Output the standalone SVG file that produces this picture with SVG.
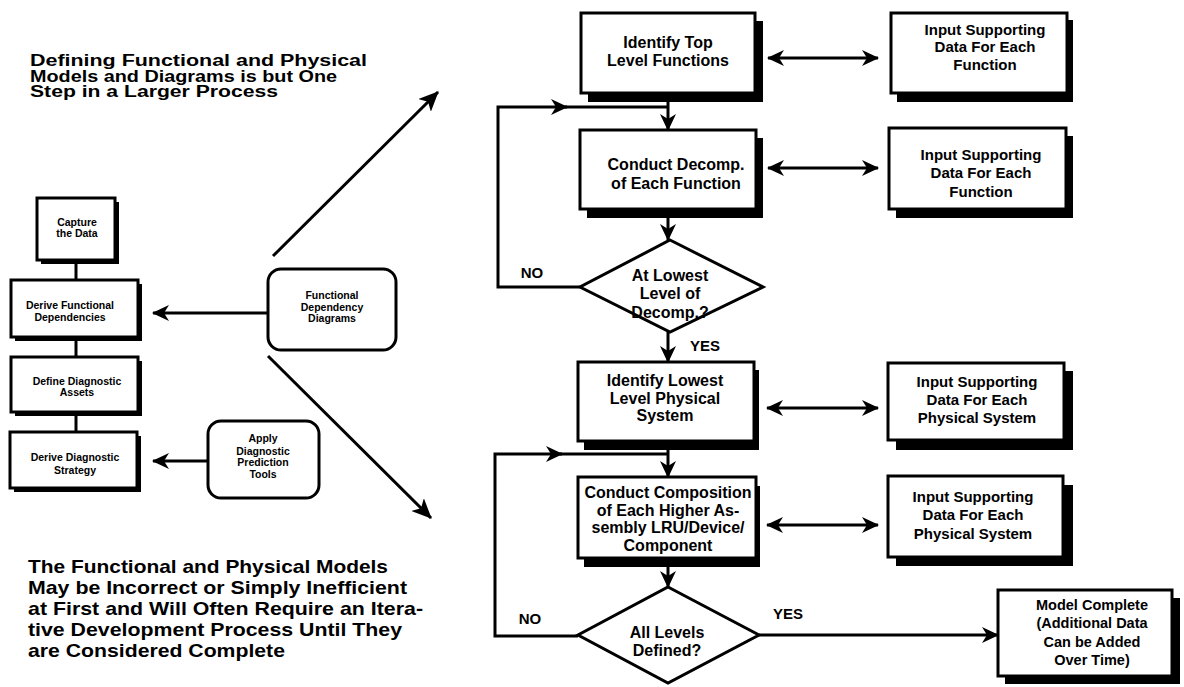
<svg xmlns="http://www.w3.org/2000/svg" width="1184" height="687" viewBox="0 0 1184 687">
<style>
  .box{fill:#fff;stroke:#000;stroke-width:3}
  .sh{fill:#000}
  .ln{fill:none;stroke:#000;stroke-width:3}
  .t{font-family:"Liberation Sans",Arial,sans-serif;font-weight:bold;fill:#000;text-anchor:middle}
  .f16{font-size:16px}
  .f15{font-size:15px}
  .f145{font-size:14.5px}
  .f10{font-size:10.5px}
  .big{font-family:"Liberation Sans",Arial,sans-serif;font-weight:bold;fill:#000}
</style>
<defs>
  <marker id="ah" viewBox="0 0 17 16" refX="16" refY="8" markerWidth="17" markerHeight="16" orient="auto-start-reverse" markerUnits="userSpaceOnUse">
    <path d="M0,0 L17,8 L0,16 L5,8 z" fill="#000"/>
  </marker>
  <marker id="ahL" viewBox="0 0 20 18" refX="19" refY="9" markerWidth="20" markerHeight="18" orient="auto" markerUnits="userSpaceOnUse">
    <path d="M0,0 L20,9 L0,18 L5,9 z" fill="#000"/>
  </marker>
</defs>
<rect width="1184" height="687" fill="#fff"/>

<g id="title-top">
  <text class="big" font-size="16" x="30" y="66" textLength="337" lengthAdjust="spacingAndGlyphs">Defining Functional and Physical</text>
  <text class="big" font-size="16" x="30" y="81.5" textLength="307" lengthAdjust="spacingAndGlyphs">Models and Diagrams is but One</text>
  <text class="big" font-size="16" x="30" y="97" textLength="248" lengthAdjust="spacingAndGlyphs">Step in a Larger Process</text>
</g>
<g id="title-bottom">
  <text class="big" font-size="18.5" x="28" y="573" textLength="360" lengthAdjust="spacingAndGlyphs">The Functional and Physical Models</text>
  <text class="big" font-size="18.5" x="28" y="594" textLength="379" lengthAdjust="spacingAndGlyphs">May be Incorrect or Simply Inefficient</text>
  <text class="big" font-size="18.5" x="28" y="615" textLength="395" lengthAdjust="spacingAndGlyphs">at First and Will Often Require an Itera-</text>
  <text class="big" font-size="18.5" x="28" y="636" textLength="374" lengthAdjust="spacingAndGlyphs">tive Development Process Until They</text>
  <text class="big" font-size="18.5" x="28" y="657" textLength="257" lengthAdjust="spacingAndGlyphs">are Considered Complete</text>
</g>

<g id="connectors">
  <line class="ln" x1="76" y1="260" x2="76" y2="280"/>
  <line class="ln" x1="76" y1="337" x2="76" y2="357"/>
  <line class="ln" x1="76" y1="412" x2="76" y2="432"/>
  <line class="ln" x1="268" y1="313" x2="153" y2="313" marker-end="url(#ah)"/>
  <line class="ln" x1="208" y1="461" x2="153" y2="461" marker-end="url(#ah)"/>
  <line class="ln" x1="273" y1="256" x2="438" y2="92" marker-end="url(#ahL)"/>
  <line class="ln" x1="268" y1="356" x2="431" y2="518" marker-end="url(#ahL)"/>
  <line class="ln" x1="668" y1="93" x2="668" y2="130" marker-end="url(#ah)"/>
  <path class="ln" d="M580,287 H498 V107 H567" marker-end="url(#ah)"/>
  <line class="ln" x1="565" y1="107" x2="668" y2="107"/>
  <line class="ln" x1="668" y1="209" x2="668" y2="240" marker-end="url(#ah)"/>
  <line class="ln" x1="668" y1="332" x2="668" y2="362" marker-end="url(#ah)"/>
  <line class="ln" x1="668" y1="441" x2="668" y2="477" marker-end="url(#ah)"/>
  <path class="ln" d="M578,636 H495 V454 H562" marker-end="url(#ah)"/>
  <line class="ln" x1="560" y1="454" x2="668" y2="454"/>
  <line class="ln" x1="668" y1="558" x2="668" y2="587" marker-end="url(#ah)"/>
  <line class="ln" x1="759" y1="635" x2="998" y2="635" marker-end="url(#ah)"/>
  <line class="ln" x1="768" y1="58" x2="878" y2="58" marker-start="url(#ah)" marker-end="url(#ah)"/>
  <line class="ln" x1="768" y1="168" x2="878" y2="168" marker-start="url(#ah)" marker-end="url(#ah)"/>
  <line class="ln" x1="767" y1="408" x2="878" y2="408" marker-start="url(#ah)" marker-end="url(#ah)"/>
  <line class="ln" x1="767" y1="525" x2="878" y2="525" marker-start="url(#ah)" marker-end="url(#ah)"/>
</g>

<g id="capture">
  <rect class="sh" x="41" y="202" width="78" height="62"/>
  <rect class="box" x="37" y="198" width="78" height="62"/>
  <text class="t f10" x="77" y="225.5">Capture</text>
  <text class="t f10" x="77" y="236.5">the Data</text>
</g>
<g id="derive-functional">
  <rect class="sh" x="15" y="284" width="127" height="57"/>
  <rect class="box" x="11" y="280" width="127" height="57"/>
  <text class="t f10" x="70" y="308.5">Derive Functional</text>
  <text class="t f10" x="70" y="320.5">Dependencies</text>
</g>
<g id="define-assets">
  <rect class="sh" x="15" y="361" width="127" height="55"/>
  <rect class="box" x="11" y="357" width="127" height="55"/>
  <text class="t f10" x="77" y="384.5">Define Diagnostic</text>
  <text class="t f10" x="77" y="395.5">Assets</text>
</g>
<g id="derive-strategy">
  <rect class="sh" x="14" y="436" width="127" height="56"/>
  <rect class="box" x="10" y="432" width="127" height="56"/>
  <text class="t f10" x="75" y="460.5">Derive Diagnostic</text>
  <text class="t f10" x="75" y="473.5">Strategy</text>
</g>
<g id="fdd">
  <rect class="box" x="268" y="269" width="128" height="81" rx="13"/>
  <text class="t f10" x="332" y="298.5">Functional</text>
  <text class="t f10" x="332" y="310.5">Dependency</text>
  <text class="t f10" x="332" y="321.5">Diagrams</text>
</g>
<g id="apply-tools">
  <rect class="box" x="208" y="421" width="111" height="77" rx="13"/>
  <text class="t f10" x="263" y="441.5">Apply</text>
  <text class="t f10" x="263" y="454.5">Diagnostic</text>
  <text class="t f10" x="263" y="465.5">Prediction</text>
  <text class="t f10" x="263" y="477.5">Tools</text>
</g>

<g id="identify-top">
  <rect class="sh" x="588" y="21" width="175" height="81"/>
  <rect class="box" x="581" y="13" width="174" height="80"/>
  <text class="t f16" x="668" y="47.5">Identify Top</text>
  <text class="t f16" x="668" y="65.5">Level Functions</text>
</g>
<g id="conduct-decomp">
  <rect class="sh" x="587" y="138" width="176" height="80"/>
  <rect class="box" x="580" y="130" width="176" height="79"/>
  <text class="t f16" x="676" y="169.5">Conduct Decomp.</text>
  <text class="t f16" x="676" y="188.5">of Each Function</text>
</g>
<g id="lowest-decomp">
  <polygon class="box" points="670,240 763,287 670,332 580,287"/>
  <text class="t f16" x="670" y="280.5">At Lowest</text>
  <text class="t f16" x="670" y="298.5">Level of</text>
  <text class="t f16" x="670" y="317.5">Decomp.?</text>
  <text class="t f15" x="532" y="277.5">NO</text>
  <text class="t f15" x="705" y="350.5">YES</text>
</g>
<g id="identify-lowest">
  <rect class="sh" x="584" y="370" width="175" height="80"/>
  <rect class="box" x="578" y="362" width="176" height="79"/>
  <text class="t f16" x="665" y="385.5">Identify Lowest</text>
  <text class="t f16" x="665" y="403.5">Level Physical</text>
  <text class="t f16" x="665" y="420.5">System</text>
</g>
<g id="conduct-composition">
  <rect class="sh" x="584" y="486" width="176" height="81"/>
  <rect class="box" x="578" y="477" width="178" height="81"/>
  <text class="t f16" x="668" y="497.5">Conduct Composition</text>
  <text class="t f16" x="668" y="515.5">of Each Higher As-</text>
  <text class="t f16" x="668" y="532.5">sembly LRU/Device/</text>
  <text class="t f16" x="668" y="550.5">Component</text>
</g>
<g id="all-levels">
  <polygon class="box" points="668,587 759,635 668,683 578,635"/>
  <text class="t f16" x="667" y="637.5">All Levels</text>
  <text class="t f16" x="667" y="655.5">Defined?</text>
  <text class="t f15" x="530" y="623.5">NO</text>
  <text class="t f15" x="788" y="618.5">YES</text>
</g>

<g id="input-1">
  <rect class="sh" x="897" y="20" width="176" height="82"/>
  <rect class="box" x="891" y="13" width="176" height="80"/>
  <text class="t f15" x="985" y="35">Input Supporting</text>
  <text class="t f15" x="985" y="52">Data For Each</text>
  <text class="t f15" x="985" y="70">Function</text>
</g>
<g id="input-2">
  <rect class="sh" x="896" y="136" width="177" height="82"/>
  <rect class="box" x="889" y="128" width="177" height="81"/>
  <text class="t f15" x="981" y="160">Input Supporting</text>
  <text class="t f15" x="981" y="178">Data For Each</text>
  <text class="t f15" x="981" y="197">Function</text>
</g>
<g id="input-3">
  <rect class="sh" x="896" y="371" width="177" height="79"/>
  <rect class="box" x="888" y="363" width="176" height="77"/>
  <text class="t f15" x="977" y="387">Input Supporting</text>
  <text class="t f15" x="977" y="405">Data For Each</text>
  <text class="t f15" x="977" y="423">Physical System</text>
</g>
<g id="input-4">
  <rect class="sh" x="896" y="485" width="177" height="81"/>
  <rect class="box" x="888" y="476" width="175" height="81"/>
  <text class="t f15" x="973" y="502">Input Supporting</text>
  <text class="t f15" x="973" y="520">Data For Each</text>
  <text class="t f15" x="973" y="539">Physical System</text>
</g>
<g id="model-complete">
  <rect class="sh" x="1005" y="598" width="175" height="86"/>
  <rect class="box" x="998" y="590" width="174" height="86"/>
  <text class="t f145" x="1092" y="610">Model Complete</text>
  <text class="t f145" x="1092" y="628">(Additional Data</text>
  <text class="t f145" x="1092" y="647">Can be Added</text>
  <text class="t f145" x="1092" y="665">Over Time)</text>
</g>
</svg>
